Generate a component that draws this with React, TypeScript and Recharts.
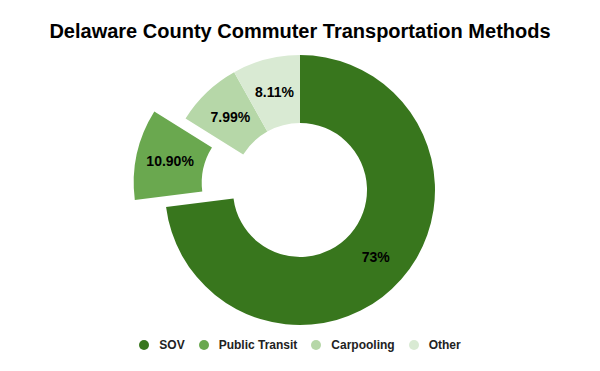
import React from 'react';
import { PieChart, Pie, Cell, Sector } from 'recharts';

const categories = ['SOV', 'Public Transit', 'Carpooling', 'Other'];
const values = [73, 10.9, 7.99, 8.11];
const valueLabels = ['73%', '10.90%', '7.99%', '8.11%'];
const colors = ['#38761d', '#6aa84f', '#b6d7a8', '#d9ead3'];
const explodedIndex = 1;

const data = categories.map((name, i) => ({ name, value: values[i], label: valueLabels[i] }));

const RAD = Math.PI / 180;
const EXPLODE = 32;

const renderShape = (props: any) => {
  const { cx, cy, midAngle, index, name } = props;
  const isExploded = name === categories[explodedIndex] || index === explodedIndex;
  const dx = isExploded ? EXPLODE * Math.cos(-midAngle * RAD) : 0;
  const dy = isExploded ? EXPLODE * Math.sin(-midAngle * RAD) : 0;
  return <Sector {...props} cx={cx + dx} cy={cy + dy} stroke="none" />;
};

const renderLabel = (props: any) => {
  const { cx, cy, midAngle, innerRadius, outerRadius, index, payload } = props;
  const isExploded = index === explodedIndex;
  const r = (innerRadius + outerRadius) / 2 + (isExploded ? EXPLODE : 0);
  const x = cx + r * Math.cos(-midAngle * RAD);
  const y = cy + r * Math.sin(-midAngle * RAD);
  return (
    <text
      x={x}
      y={y}
      textAnchor="middle"
      dominantBaseline="central"
      fill="#000"
      fontFamily="'Liberation Sans', Arial, sans-serif"
      fontWeight="bold"
      fontSize={14}
    >
      {payload?.label ?? valueLabels[index]}
    </text>
  );
};

export default function App() {
  return (
    <div style={{ position: 'absolute', left: 0, top: 0, width: 600, height: 371, background: '#fff' }}>
      <div
        style={{
          position: 'absolute',
          top: 20,
          left: 0,
          width: 600,
          textAlign: 'center',
          fontFamily: "'Liberation Sans', Arial, sans-serif",
          fontWeight: 'bold',
          fontSize: 20,
          color: '#000',
        }}
      >
        Delaware County Commuter Transportation Methods
      </div>
      <PieChart width={600} height={371}>
        <Pie
          data={data}
          dataKey="value"
          nameKey="name"
          cx={295}
          cy={185}
          innerRadius={67}
          outerRadius={135}
          startAngle={90}
          endAngle={-270}
          stroke="none"
          shape={renderShape}
          label={renderLabel}
          labelLine={false}
          isAnimationActive={false}
        >
          {data.map((d, i) => (
            <Cell key={d.name} fill={colors[i]} />
          ))}
        </Pie>
      </PieChart>
      <div
        style={{
          position: 'absolute',
          top: 338,
          left: 0,
          width: 600,
          display: 'flex',
          justifyContent: 'center',
          alignItems: 'center',
          fontFamily: "'Liberation Sans', Arial, sans-serif",
          fontWeight: 'bold',
          fontSize: 12,
          color: '#222',
        }}
      >
        {categories.map((c, i) => (
          <div key={c} style={{ display: 'flex', alignItems: 'center', marginRight: i < categories.length - 1 ? 14 : 0 }}>
            <span
              style={{
                display: 'inline-block',
                width: 10,
                height: 10,
                borderRadius: 5,
                background: colors[i],
                marginRight: 10,
              }}
            />
            <span>{c}</span>
          </div>
        ))}
      </div>
    </div>
  );
}
